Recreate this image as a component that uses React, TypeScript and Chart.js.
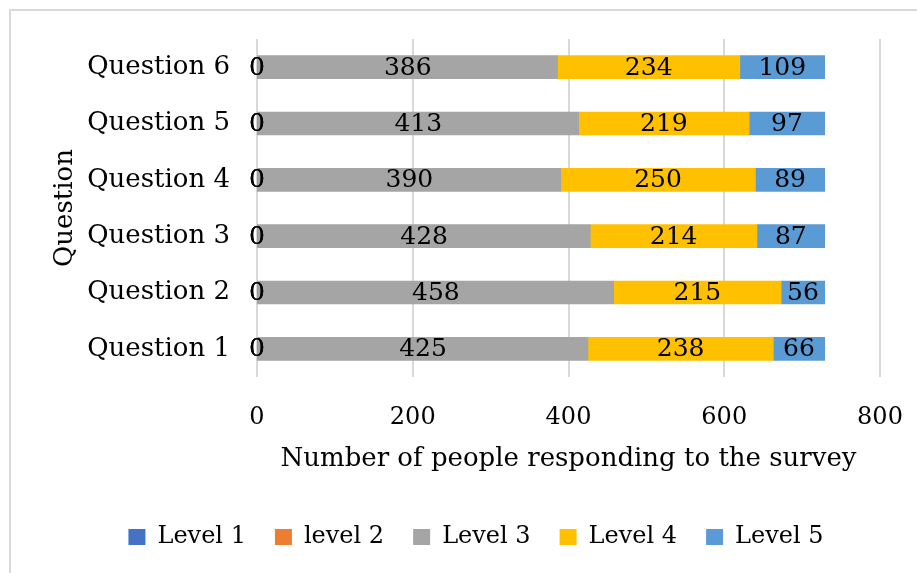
import { useEffect, useRef } from "react";
import { Chart, registerables } from "chart.js";

Chart.register(...registerables);

// Survey answers per question, split by response level
const questions = ["Question 1", "Question 2", "Question 3", "Question 4", "Question 5", "Question 6"];
const level1 = [0, 0, 0, 0, 0, 0];
const level2 = [0, 0, 0, 0, 0, 0];
const level3 = [425, 458, 428, 390, 413, 386];
const level4 = [238, 215, 214, 250, 219, 234];
const level5 = [66, 56, 87, 89, 97, 109];
const levelNames = ["Level 1", "level 2", "Level 3", "Level 4", "Level 5"];
const levelColors = ["#4472C4", "#ED7D31", "#A5A5A5", "#FFC000", "#5B9BD5"];
const xTicks = [0, 200, 400, 600, 800];

const FONT = "'DejaVu Serif', 'Liberation Serif', serif";

// Writes each segment's value in the middle of its bar
const valueLabels = {
  id: "valueLabels",
  afterDatasetsDraw(chart: any) {
    const { ctx } = chart;
    ctx.save();
    ctx.font = `25px ${FONT}`;
    ctx.fillStyle = "#000";
    ctx.textAlign = "center";
    ctx.textBaseline = "middle";
    chart.data.datasets.forEach((ds: any, di: number) => {
      const meta = chart.getDatasetMeta(di);
      meta.data.forEach((el: any, i: number) => {
        const v = ds.data[i];
        const cx = (el.x + el.base) / 2;
        ctx.fillText(String(v), cx, el.y + 1);
      });
    });
    ctx.restore();
  },
};

export default function App() {
  const ref = useRef<HTMLCanvasElement | null>(null);

  useEffect(() => {
    if (!ref.current) return;
    const series = [level1, level2, level3, level4, level5];
    const chart = new Chart(ref.current, {
      type: "bar",
      data: {
        labels: questions,
        datasets: series.map((d, i) => ({
          label: levelNames[i],
          data: d,
          backgroundColor: levelColors[i],
          borderWidth: 0,
          barThickness: 23,
        })),
      },
      options: {
        indexAxis: "y",
        responsive: false,
        animation: false,
        layout: { padding: { left: 72, top: 39, right: 37, bottom: 14 } },
        plugins: {
          tooltip: { enabled: false },
          legend: {
            position: "bottom",
            labels: {
              boxWidth: 17,
              boxHeight: 16,
              padding: 29,
              color: "#000",
              font: { size: 24, family: FONT },
            },
          },
        },
        scales: {
          x: {
            type: "linear",
            stacked: true,
            min: 0,
            max: 800,
            afterBuildTicks: (s: any) => {
              s.ticks = xTicks.map((v) => ({ value: v }));
            },
            afterFit: (s: any) => {
              s.height = 119;
              s.paddingLeft = 0;
              s.paddingRight = 0;
            },
            ticks: { padding: 26, color: "#000", font: { size: 24, family: FONT } },
            grid: { color: "#d9d9d9", lineWidth: 2, drawTicks: false },
            border: { display: false },
            title: {
              display: true,
              text: "Number of people responding to the survey",
              color: "#000",
              font: { size: 26, family: FONT },
              padding: { top: 0, bottom: 21 },
            },
          },
          y: {
            stacked: true,
            reverse: true,
            afterFit: (s: any) => {
              s.width = 185;
            },
            ticks: { padding: 19, color: "#000", font: { size: 26, family: FONT } },
            grid: { display: false },
            border: { display: false },
            title: {
              display: true,
              text: "Question",
              color: "#000",
              font: { size: 26, family: FONT },
              padding: { top: -22, bottom: 0 },
            },
          },
        },
      },
      plugins: [valueLabels],
    });
    return () => chart.destroy();
  }, []);

  return (
    <div style={{ position: "absolute", left: 0, top: 0, width: 917, height: 573, overflow: "hidden", background: "#fff" }}>
      <div
        style={{
          position: "absolute",
          left: 9,
          top: 9,
          width: 1200,
          height: 1200,
          border: "2px solid #d9d9d9",
        }}
      />
      <canvas ref={ref} width={917} height={573} style={{ position: "absolute", left: 0, top: 0 }} />
    </div>
  );
}
